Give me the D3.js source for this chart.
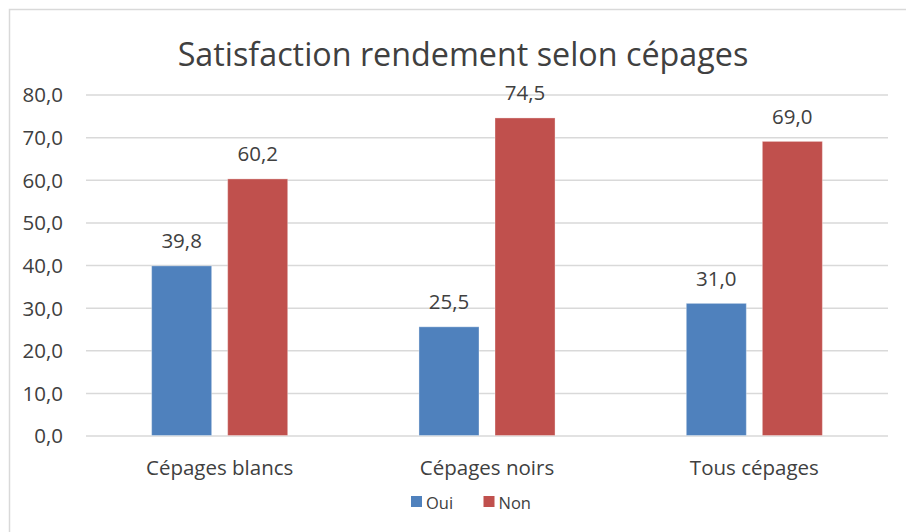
<!DOCTYPE html>
<html>
<head>
<meta charset="utf-8">
<script src="https://cdn.jsdelivr.net/npm/d3@7"></script>
<style>
    body { margin: 0; background: #fff; }
    text { font-family: "Open Sans", Lato, sans-serif; fill: #404040; }
</style>
</head>
<body>
<div id="chart"></div>
<script>
// chart values
let categories = ["Cépages blancs", "Cépages noirs", "Tous cépages"];
let seriesNames = ["Oui", "Non"];
let oui = [39.8, 25.5, 31.0];
let non = [60.2, 74.5, 69.0];
let yTicks = [0, 10, 20, 30, 40, 50, 60, 70, 80];
let colors = ["#4f81bd", "#c0504d"];

let W = 906, H = 532;
let fmt = function(v) { return v.toFixed(1).replace(".", ","); };

let svg = d3.select("#chart").append("svg")
        .attr("width", W)
        .attr("height", H);

// outer frame, runs off the right and bottom edges
svg.append("rect")
    .attr("x", 9.5).attr("y", 9.5)
    .attr("width", W + 20).attr("height", H + 20)
    .attr("fill", "none")
    .attr("stroke", "#d9d9d9")
    .attr("stroke-width", 1.5);

let xScale = d3.scaleBand()
        .domain(categories)
        .range([86, 888])
        .paddingInner(0.491)
        .paddingOuter(0.2455);

let xInner = d3.scaleBand()
        .domain(seriesNames)
        .range([0, xScale.bandwidth()])
        .paddingInner(0.2105);

let yScale = d3.scaleLinear()
        .domain([0, 80])
        .range([435.5, 94.5]);

// gridlines
let yAxis = d3.axisLeft(yScale)
        .tickValues(yTicks)
        .tickSize(-(888 - 86))
        .tickFormat(fmt);

svg.append("g")
    .attr("transform", "translate(86,0)")
    .call(yAxis)
    .call(function(g) {
        g.select(".domain").remove();
        g.selectAll("line").attr("stroke", "#d9d9d9").attr("stroke-width", 1.5);
        g.selectAll("text")
            .attr("x", -23)
            .attr("dy", "0.36em")
            .style("font-size", "20.5px")
            .style("fill", "#404040");
    });

let rows = categories.map(function(c, i) {
    return {cat: c, values: [oui[i], non[i]]};
});

let groups = svg.append("g").selectAll("g")
        .data(rows)
        .join("g")
        .attr("transform", function(d) { return "translate(" + xScale(d.cat) + ",0)"; });

groups.selectAll("rect")
    .data(function(d) { return d.values.map(function(v, j) { return {s: seriesNames[j], v: v, j: j}; }); })
    .join("rect")
    .attr("x", function(d) { return xInner(d.s); })
    .attr("y", function(d) { return yScale(d.v); })
    .attr("width", xInner.bandwidth())
    .attr("height", function(d) { return yScale(0) - yScale(d.v); })
    .attr("fill", function(d) { return colors[d.j]; })
    .attr("stroke", "rgba(255,255,255,0.35)")
    .attr("stroke-width", 1);

groups.selectAll("text.lbl")
    .data(function(d) { return d.values.map(function(v, j) { return {s: seriesNames[j], v: v}; }); })
    .join("text")
    .attr("class", "lbl")
    .attr("x", function(d) { return xInner(d.s) + xInner.bandwidth() / 2; })
    .attr("y", function(d) { return yScale(d.v) - 17.5; })
    .attr("text-anchor", "middle")
    .style("font-size", "20.5px")
    .text(function(d) { return fmt(d.v); });

// category labels
svg.append("g").selectAll("text")
    .data(categories)
    .join("text")
    .attr("x", function(d) { return xScale(d) + xScale.bandwidth() / 2; })
    .attr("y", 475)
    .attr("text-anchor", "middle")
    .style("font-size", "20.5px")
    .text(function(d) { return d; });

// title
svg.append("text")
    .attr("x", 463)
    .attr("y", 66)
    .attr("text-anchor", "middle")
    .style("font-size", "32.3px")
    .text("Satisfaction rendement selon cépages");

// legend
let legendX = [411, 483.5];
let legend = svg.append("g").selectAll("g")
        .data(seriesNames)
        .join("g")
        .attr("transform", function(d, i) { return "translate(" + legendX[i] + ",496)"; });

legend.append("rect")
    .attr("width", 11).attr("height", 11)
    .attr("fill", function(d, i) { return colors[i]; });

legend.append("text")
    .attr("x", 15)
    .attr("y", 12.5)
    .style("font-size", "16.5px")
    .text(function(d) { return d; });
</script>
</body>
</html>
